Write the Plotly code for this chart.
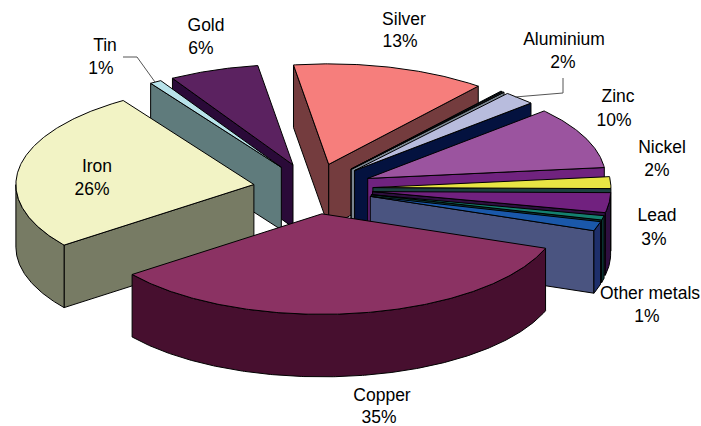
import numpy as np
import plotly.graph_objects as go

# Data: shares, clockwise from the first slice
slices = ["Copper", "Iron", "Tin", "Gold", "Silver", "Sliver A", "Sliver B", "Aluminium",
          "Zinc", "Nickel", "Lead", "Sliver C", "Other metals"]
shares = [34.2, 26.1, 0.8, 6.1, 13.2, 0.14, 0.14, 2.2, 10.0, 1.9, 3.2, 0.7, 1.5]

label_names = ["Gold", "Silver", "Aluminium", "Zinc", "Nickel", "Lead", "Other metals", "Copper", "Iron", "Tin"]
label_pcts = ["6%", "13%", "2%", "10%", "2%", "3%", "1%", "35%", "26%", "1%"]

# Styles
top_colors = ["#8b3263", "#f2f3c5", "#b8e3ea", "#5b2260", "#f67e7c", "#2c6a92", "#8a95a0", "#b8bcdd",
              "#9b549f", "#e8e544", "#71217f", "#14806f", "#1a58aa"]
rim_colors = ["#470f2f", "#777b64", "#5f7b7c", "#2a0a38", "#743c3e", "#2c5a82", "#7a8590", "#04123f",
              "#70237f", "#1c4040", "#2e0f40", "#0d3a38", "#1e2f6b"]
cut_colors = ["#470f2f", "#777b64", "#5f7b7c", "#2a0a38", "#743c3e", "#2c5a82", "#7a8590", "#04123f",
              "#70237f", "#1c4040", "#2e0f40", "#0d3a38", "#4a5480"]
draw_order = ["Gold", "Tin", "Iron", "Silver", "Sliver A", "Sliver B", "Aluminium", "Zinc",
              "Nickel", "Lead", "Sliver C", "Other metals", "Copper"]

# Projection of the pie
CX, CY, RX, RY, DEPTH = 313.0, 188.8, 238.0, 100.5, 62.5
EXPLODE = 0.252
START = 20.0

name_x = [206, 404, 564, 618, 662, 657, 650, 382, 97, 105]
pct_x = [201, 400, 563, 614, 657, 654, 647, 379, 92, 101]
name_y = [27, 21, 41, 98, 149, 217, 295, 397, 168, 47]
pct_y = [50, 43, 64, 122, 172, 241, 318, 419, 191, 70]

fig = go.Figure()


def poly(xs, ys, color):
    fig.add_trace(go.Scatter(x=xs, y=ys, mode="lines", fill="toself", fillcolor=color,
                             line=dict(color="black", width=1), hoverinfo="skip", showlegend=False))


def rim_point(ax, ay, deg):
    return ax + RX * np.cos(np.radians(deg)), ay + RY * np.sin(np.radians(deg))


total = sum(shares)
edges = START + np.concatenate([[0], np.cumsum(shares)]) / total * 360

for name in draw_order:
    i = slices.index(name)
    a, b = edges[i], edges[i + 1]
    mid = np.radians((a + b) / 2)
    ax = CX + EXPLODE * RX * np.cos(mid)
    ay = CY + EXPLODE * RY * np.sin(mid)

    # radial cut faces that look towards the viewer
    if np.cos(np.radians(a)) < 0:
        px, py = rim_point(ax, ay, a)
        poly([ax, px, px, ax, ax], [ay, py, py + DEPTH, ay + DEPTH, ay], cut_colors[i])
    if np.cos(np.radians(b)) > 0:
        px, py = rim_point(ax, ay, b)
        poly([ax, px, px, ax, ax], [ay, py, py + DEPTH, ay + DEPTH, ay], cut_colors[i])

    # outer wall, front half only
    degs = np.linspace(a, b, max(int(b - a) * 2, 4))
    front = degs[np.sin(np.radians(degs)) >= 0]
    if len(front) > 1:
        rx_, ry_ = rim_point(ax, ay, front)
        poly(list(rx_) + list(rx_[::-1]) + [rx_[0]],
             list(ry_) + list(ry_[::-1] + DEPTH) + [ry_[0]], rim_colors[i])

    # top face
    tx, ty = rim_point(ax, ay, degs)
    poly([ax] + list(tx) + [ax], [ay] + list(ty) + [ay], top_colors[i])

# leader lines
fig.add_trace(go.Scatter(x=[123, 137, 155], y=[57, 57, 82], mode="lines",
                         line=dict(color="#555555", width=1), hoverinfo="skip", showlegend=False))
fig.add_trace(go.Scatter(x=[563, 563, 515], y=[78, 93, 97], mode="lines",
                         line=dict(color="#555555", width=1), hoverinfo="skip", showlegend=False))

# labels
font = dict(family="Liberation Sans", size=17.5, color="black")
fig.add_trace(go.Scatter(x=name_x, y=name_y, text=label_names, mode="text", textfont=font,
                         textposition="middle center", hoverinfo="skip", showlegend=False))
fig.add_trace(go.Scatter(x=pct_x, y=pct_y, text=label_pcts, mode="text", textfont=font,
                         textposition="middle center", hoverinfo="skip", showlegend=False))

fig.update_layout(width=701, height=426, margin=dict(l=0, r=0, t=0, b=0),
                  paper_bgcolor="white", plot_bgcolor="white",
                  xaxis=dict(range=[0, 701], visible=False, fixedrange=True),
                  yaxis=dict(range=[426, 0], visible=False, fixedrange=True))
fig.write_html("out.html", config={"displayModeBar": False},
               post_script="document.body.style.margin='0';document.body.style.overflow='hidden';")
